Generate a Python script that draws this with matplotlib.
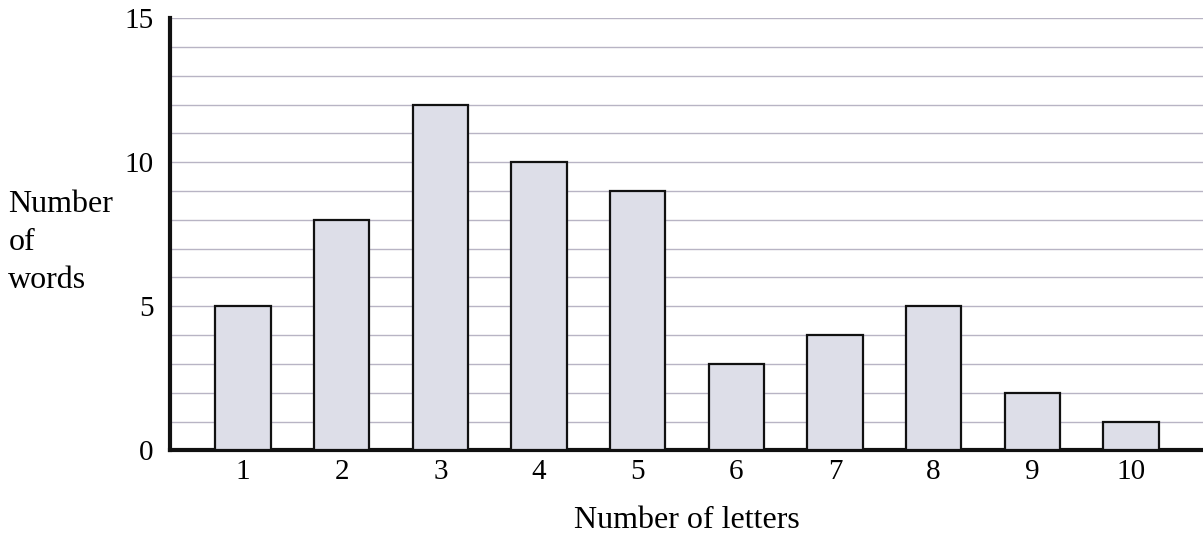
import matplotlib
matplotlib.use("Agg")
import matplotlib.pyplot as plt

letters = [1, 2, 3, 4, 5, 6, 7, 8, 9, 10]
words = [5, 8, 12, 10, 9, 3, 4, 5, 2, 1]
y_ticks = [0, 5, 10, 15]

plt.rcParams["font.family"] = ["Liberation Serif", "DejaVu Serif"]

fig = plt.figure(figsize=(12.03, 5.33), dpi=100)
ax = fig.add_axes([0.1413, 0.155, 0.8587, 0.811])

ax.bar(letters, words, width=0.56, color="#dddee8", edgecolor="#111111",
       linewidth=1.6, zorder=3)

ax.set_xlim(0.26, 10.73)
ax.set_ylim(0, 15)
ax.set_yticks(y_ticks)
ax.set_yticks(range(0, 16), minor=True)
ax.set_xticks(letters)
ax.grid(True, which="both", axis="y", color="#b8b4c4", linewidth=1.0, zorder=0)
ax.tick_params(which="both", length=0)
ax.tick_params(axis="y", labelsize=21, pad=12)
ax.tick_params(axis="x", labelsize=21, pad=6)

for side in ("top", "right"):
    ax.spines[side].set_visible(False)
for side in ("left", "bottom"):
    ax.spines[side].set_linewidth(3)
    ax.spines[side].set_color("#111111")

ax.set_xlabel("Number of letters", fontsize=23, labelpad=15)
fig.text(0.007, 0.545, "Number\nof\nwords", fontsize=23, ha="left",
         va="center", linespacing=1.4)

fig.savefig("out.png", dpi=100)
